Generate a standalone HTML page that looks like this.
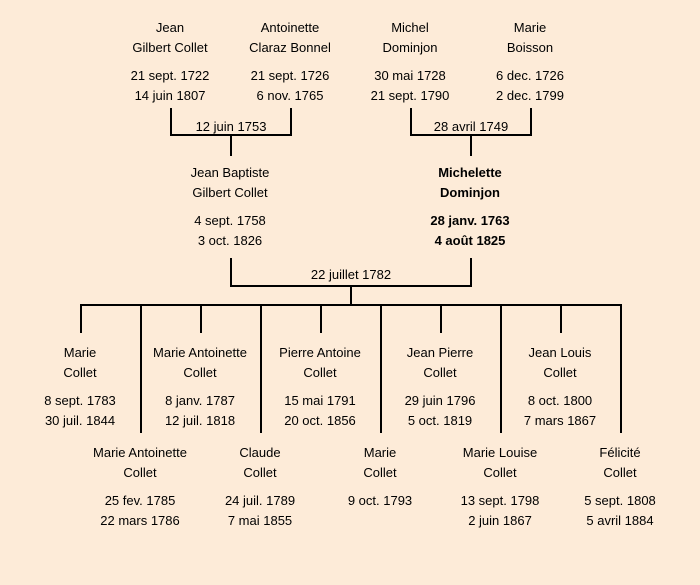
<!DOCTYPE html>
<html><head><meta charset="utf-8"><style>
html,body{margin:0;padding:0;background:#fdebd8;}
svg{display:block}
text{font-family:"Liberation Sans","DejaVu Sans",sans-serif;font-size:13px;fill:#000;text-anchor:middle}
.b{font-weight:bold}
</style></head><body>
<svg width="700" height="585" viewBox="0 0 700 585">
<rect width="700" height="585" fill="#fdebd8"/>
<g stroke="#000" stroke-width="2" fill="none">
<polyline points="171,108 171,135 291,135 291,108"/>
<line x1="231" y1="135" x2="231" y2="156"/>
<polyline points="411,108 411,135 531,135 531,108"/>
<line x1="471" y1="135" x2="471" y2="156"/>
<polyline points="231,258 231,286 471,286 471,258"/>
<line x1="351" y1="286" x2="351" y2="305"/>
<polyline points="81,333 81,305 621,305 621,433"/>
<line x1="141" y1="305" x2="141" y2="433"/>
<line x1="261" y1="305" x2="261" y2="433"/>
<line x1="381" y1="305" x2="381" y2="433"/>
<line x1="501" y1="305" x2="501" y2="433"/>
<line x1="201" y1="305" x2="201" y2="333"/>
<line x1="321" y1="305" x2="321" y2="333"/>
<line x1="441" y1="305" x2="441" y2="333"/>
<line x1="561" y1="305" x2="561" y2="333"/>
</g>
<g>
<text x="170" y="32">Jean</text><text x="170" y="52">Gilbert Collet</text>
<text x="170" y="80">21 sept. 1722</text><text x="170" y="100">14 juin 1807</text>
<text x="290" y="32">Antoinette</text><text x="290" y="52">Claraz Bonnel</text>
<text x="290" y="80">21 sept. 1726</text><text x="290" y="100">6 nov. 1765</text>
<text x="410" y="32">Michel</text><text x="410" y="52">Dominjon</text>
<text x="410" y="80">30 mai 1728</text><text x="410" y="100">21 sept. 1790</text>
<text x="530" y="32">Marie</text><text x="530" y="52">Boisson</text>
<text x="530" y="80">6 dec. 1726</text><text x="530" y="100">2 dec. 1799</text>
<text x="231" y="131">12 juin 1753</text>
<text x="471" y="131">28 avril 1749</text>
<text x="230" y="177">Jean Baptiste</text><text x="230" y="197">Gilbert Collet</text>
<text x="230" y="225">4 sept. 1758</text><text x="230" y="245">3 oct. 1826</text>
<text class="b" x="470" y="177">Michelette</text><text class="b" x="470" y="197">Dominjon</text>
<text class="b" x="470" y="225">28 janv. 1763</text><text class="b" x="470" y="245">4 août 1825</text>
<text x="351" y="279">22 juillet 1782</text>
<text x="80" y="357">Marie</text><text x="80" y="377">Collet</text>
<text x="80" y="405">8 sept. 1783</text><text x="80" y="425">30 juil. 1844</text>
<text x="200" y="357">Marie Antoinette</text><text x="200" y="377">Collet</text>
<text x="200" y="405">8 janv. 1787</text><text x="200" y="425">12 juil. 1818</text>
<text x="320" y="357">Pierre Antoine</text><text x="320" y="377">Collet</text>
<text x="320" y="405">15 mai 1791</text><text x="320" y="425">20 oct. 1856</text>
<text x="440" y="357">Jean Pierre</text><text x="440" y="377">Collet</text>
<text x="440" y="405">29 juin 1796</text><text x="440" y="425">5 oct. 1819</text>
<text x="560" y="357">Jean Louis</text><text x="560" y="377">Collet</text>
<text x="560" y="405">8 oct. 1800</text><text x="560" y="425">7 mars 1867</text>
<text x="140" y="457">Marie Antoinette</text><text x="140" y="477">Collet</text>
<text x="140" y="505">25 fev. 1785</text><text x="140" y="525">22 mars 1786</text>
<text x="260" y="457">Claude</text><text x="260" y="477">Collet</text>
<text x="260" y="505">24 juil. 1789</text><text x="260" y="525">7 mai 1855</text>
<text x="380" y="457">Marie</text><text x="380" y="477">Collet</text>
<text x="380" y="505">9 oct. 1793</text>
<text x="500" y="457">Marie Louise</text><text x="500" y="477">Collet</text>
<text x="500" y="505">13 sept. 1798</text><text x="500" y="525">2 juin 1867</text>
<text x="620" y="457">Félicité</text><text x="620" y="477">Collet</text>
<text x="620" y="505">5 sept. 1808</text><text x="620" y="525">5 avril 1884</text>
</g>
</svg>
</body></html>
